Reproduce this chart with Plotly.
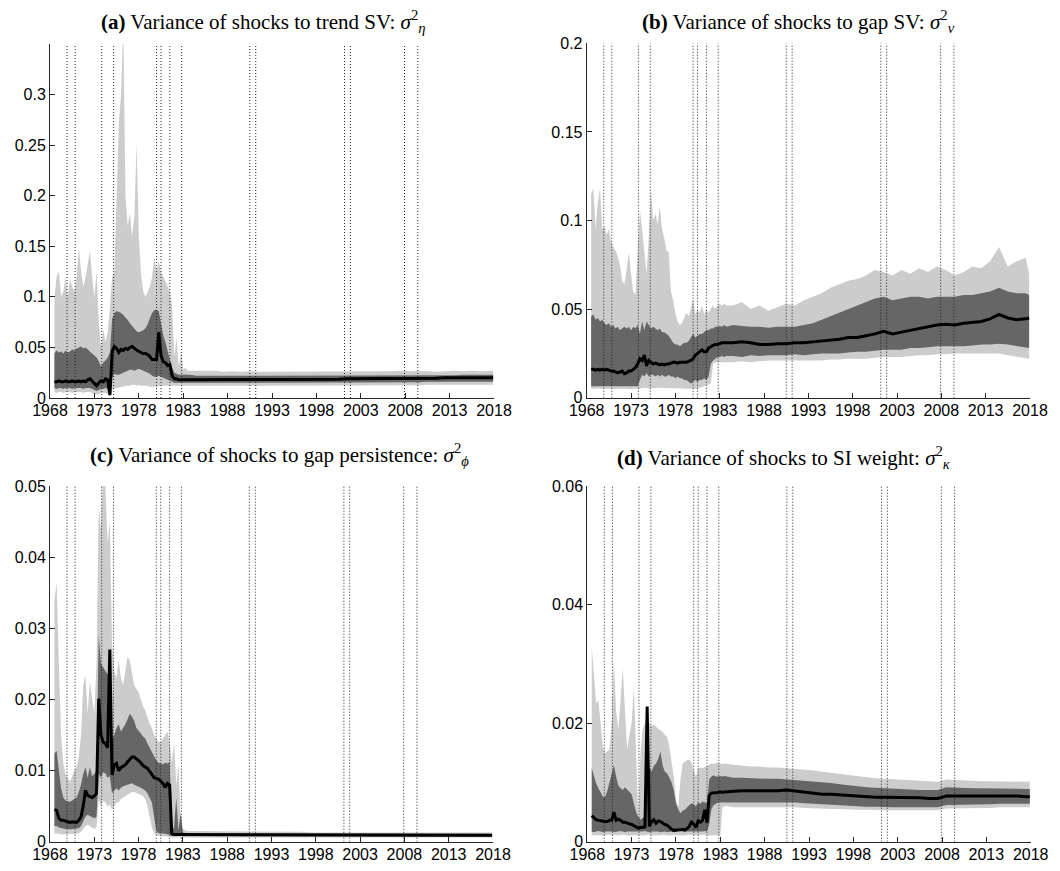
import plotly.graph_objects as go

# ---------------- time grid: quarterly 1968Q3-1983Q4, then annual ----------------
YEARS = [1968.5 + 0.25 * i for i in range(62)] + [1984.5 + i for i in range(34)] + [2017.9]

# NBER recession peaks/troughs (dotted vertical lines)
RECESSIONS = [1969.92, 1970.83, 1973.83, 1975.17, 1980.0, 1980.5, 1981.5, 1982.83,
              1990.5, 1991.17, 2001.17, 2001.83, 2007.92, 2009.42]

# ---------------- (a) trend SV ----------------
A_MED = [0.016, 0.016, 0.017, 0.016, 0.016, 0.017, 0.016, 0.016, 0.017, 0.016,
         0.016, 0.017, 0.016, 0.017, 0.016, 0.018, 0.019, 0.017, 0.014, 0.012,
         0.015, 0.017, 0.016, 0.019, 0.018, 0.003, 0.046, 0.051, 0.049, 0.045,
         0.048, 0.047, 0.049, 0.048, 0.050, 0.051, 0.049, 0.047, 0.046, 0.045,
         0.044, 0.044, 0.043, 0.041, 0.038, 0.038, 0.038, 0.065, 0.042, 0.036,
         0.035, 0.032, 0.033, 0.022, 0.019, 0.019, 0.018, 0.018, 0.018, 0.018,
         0.018, 0.018,
         0.018, 0.018, 0.018, 0.018, 0.018, 0.018, 0.018, 0.018, 0.018, 0.018,
         0.018, 0.018, 0.018, 0.018, 0.018, 0.0185, 0.0185, 0.019, 0.019, 0.019,
         0.019, 0.019, 0.019, 0.0195, 0.0195, 0.0195, 0.0195, 0.0195, 0.020, 0.020,
         0.020, 0.020, 0.020, 0.020, 0.020]
A_U68 = [0.044, 0.047, 0.045, 0.046, 0.044, 0.047, 0.045, 0.046, 0.048, 0.047,
         0.049, 0.050, 0.051, 0.049, 0.050, 0.048, 0.046, 0.045, 0.043, 0.040,
         0.036, 0.031, 0.035, 0.037, 0.040, 0.045, 0.078, 0.084, 0.086, 0.085,
         0.084, 0.082, 0.080, 0.077, 0.074, 0.071, 0.068, 0.066, 0.065, 0.066,
         0.067, 0.069, 0.073, 0.079, 0.084, 0.087, 0.087, 0.086, 0.075, 0.062,
         0.055, 0.045, 0.038, 0.030, 0.025, 0.024, 0.023, 0.023, 0.023, 0.023,
         0.023, 0.023,
         0.022, 0.022, 0.022, 0.022, 0.022, 0.022, 0.022, 0.022, 0.022, 0.022,
         0.022, 0.022, 0.022, 0.022, 0.022, 0.022, 0.022, 0.022, 0.022, 0.022,
         0.0225, 0.0225, 0.0225, 0.0225, 0.0225, 0.0225, 0.0225, 0.0225, 0.0225, 0.0225,
         0.023, 0.023, 0.023, 0.023, 0.023]
A_L68 = [0.010, 0.009, 0.010, 0.010, 0.009, 0.010, 0.010, 0.010, 0.009, 0.010,
         0.010, 0.010, 0.010, 0.009, 0.010, 0.010, 0.010, 0.009, 0.008, 0.007,
         0.008, 0.009, 0.009, 0.010, 0.009, 0.002, 0.020, 0.024, 0.023, 0.023,
         0.024, 0.025, 0.026, 0.027, 0.028, 0.028, 0.027, 0.028, 0.029, 0.028,
         0.027, 0.026, 0.025, 0.024, 0.022, 0.021, 0.021, 0.022, 0.021, 0.020,
         0.019, 0.018, 0.017, 0.016, 0.015, 0.015, 0.015, 0.015, 0.015, 0.015,
         0.015, 0.015,
         0.015, 0.015, 0.015, 0.015, 0.015, 0.015, 0.015, 0.015, 0.015, 0.015,
         0.015, 0.015, 0.015, 0.015, 0.015, 0.015, 0.0155, 0.0155, 0.0155, 0.0155,
         0.0155, 0.0155, 0.0155, 0.0155, 0.0155, 0.0155, 0.016, 0.016, 0.016, 0.016,
         0.016, 0.016, 0.016, 0.016, 0.016]
A_L90 = [0.006, 0.005, 0.006, 0.006, 0.005, 0.006, 0.006, 0.006, 0.005, 0.006,
         0.006, 0.006, 0.006, 0.005, 0.006, 0.006, 0.006, 0.005, 0.004, 0.004,
         0.004, 0.005, 0.005, 0.005, 0.004, 0.001, 0.008, 0.010, 0.010, 0.010,
         0.011, 0.011, 0.012, 0.012, 0.012, 0.013, 0.013, 0.012, 0.013, 0.012,
         0.012, 0.012, 0.012, 0.011, 0.011, 0.011, 0.011, 0.012, 0.012, 0.012,
         0.012, 0.012, 0.012, 0.012, 0.012, 0.012, 0.012, 0.012, 0.012, 0.012,
         0.012, 0.012,
         0.012, 0.012, 0.012, 0.012, 0.012, 0.012, 0.012, 0.012, 0.012, 0.012,
         0.012, 0.012, 0.012, 0.012, 0.012, 0.012, 0.0125, 0.0125, 0.0125, 0.0125,
         0.0125, 0.0125, 0.0125, 0.0125, 0.0125, 0.0125, 0.013, 0.013, 0.013, 0.013,
         0.013, 0.013, 0.013, 0.013, 0.013]
A_U90 = [0.100, 0.120, 0.125, 0.100, 0.105, 0.120, 0.100, 0.118, 0.110, 0.105,
         0.120, 0.148, 0.125, 0.110, 0.120, 0.135, 0.145, 0.120, 0.100, 0.125,
         0.075, 0.050, 0.068, 0.055, 0.065, 0.090, 0.120, 0.125, 0.200, 0.272,
         0.300, 0.370, 0.200, 0.170, 0.183, 0.160, 0.180, 0.252, 0.160, 0.123,
         0.105, 0.100, 0.105, 0.110, 0.120, 0.140, 0.125, 0.135, 0.125, 0.120,
         0.115, 0.110, 0.105, 0.090, 0.040, 0.060, 0.030, 0.047, 0.028, 0.030,
         0.027, 0.027,
         0.027, 0.0265, 0.027, 0.026, 0.0265, 0.026, 0.0265, 0.026, 0.026, 0.0265,
         0.026, 0.0265, 0.026, 0.026, 0.0265, 0.026, 0.0265, 0.026, 0.0265, 0.026,
         0.0265, 0.026, 0.0265, 0.027, 0.0265, 0.027, 0.0265, 0.026, 0.0265, 0.027,
         0.0265, 0.027, 0.0265, 0.027, 0.027]

# ---------------- (b) gap SV ----------------
B_MED = [0.016, 0.016, 0.0155, 0.016, 0.0155, 0.016, 0.0155, 0.016, 0.0155, 0.015,
         0.015, 0.0145, 0.014, 0.0145, 0.015, 0.0135, 0.014, 0.015, 0.015, 0.016,
         0.017, 0.019, 0.022, 0.021, 0.024, 0.018, 0.021, 0.020, 0.019, 0.0195,
         0.019, 0.0185, 0.019, 0.0185, 0.019, 0.019, 0.0195, 0.020, 0.020, 0.0195,
         0.020, 0.020, 0.020, 0.020, 0.0205, 0.021, 0.022, 0.024, 0.025, 0.026,
         0.027, 0.026, 0.026, 0.028, 0.029, 0.0295, 0.030, 0.030, 0.0305, 0.031,
         0.031, 0.031,
         0.031, 0.0315, 0.031, 0.030, 0.030, 0.0305, 0.0305, 0.031, 0.031, 0.0315,
         0.032, 0.0325, 0.033, 0.034, 0.034, 0.035, 0.036, 0.0375, 0.036, 0.037,
         0.038, 0.039, 0.040, 0.041, 0.0415, 0.041, 0.042, 0.0425, 0.043, 0.0445,
         0.047, 0.045, 0.044, 0.0445, 0.045]
B_U68 = [0.046, 0.047, 0.044, 0.045, 0.043, 0.044, 0.042, 0.041, 0.042, 0.040,
         0.041, 0.039, 0.040, 0.038, 0.039, 0.040, 0.039, 0.040, 0.038, 0.040,
         0.039, 0.041, 0.036, 0.043, 0.038, 0.043, 0.041, 0.039, 0.040, 0.039,
         0.038, 0.039, 0.037, 0.037, 0.036, 0.035, 0.033, 0.031, 0.030, 0.030,
         0.029, 0.030, 0.031, 0.031, 0.032, 0.034, 0.036, 0.034, 0.035, 0.036,
         0.036, 0.037, 0.038, 0.038, 0.039, 0.039, 0.040, 0.040, 0.0405, 0.040,
         0.041, 0.040,
         0.041, 0.0405, 0.040, 0.040, 0.0395, 0.040, 0.040, 0.040, 0.041, 0.042,
         0.044, 0.046, 0.048, 0.050, 0.052, 0.054, 0.056, 0.057, 0.055, 0.056,
         0.057, 0.057, 0.056, 0.057, 0.057, 0.057, 0.058, 0.058, 0.059, 0.060,
         0.062, 0.060, 0.059, 0.059, 0.058]
B_L68 = [0.0065, 0.0065, 0.0064, 0.0066, 0.0065, 0.0064, 0.0065, 0.0066, 0.0065, 0.0064,
         0.0065, 0.0065, 0.0064, 0.0065, 0.0066, 0.0065, 0.0064, 0.0065, 0.0065, 0.0066,
         0.0065, 0.0065, 0.010, 0.013, 0.012, 0.014, 0.012, 0.013, 0.013, 0.012,
         0.013, 0.012, 0.013, 0.012, 0.012, 0.013, 0.012, 0.012, 0.011, 0.012,
         0.011, 0.011, 0.010, 0.010, 0.009, 0.008, 0.009, 0.010, 0.009, 0.010,
         0.010, 0.011, 0.010, 0.012, 0.019, 0.021, 0.022, 0.023, 0.023, 0.0235,
         0.023, 0.0235,
         0.0235, 0.023, 0.024, 0.0235, 0.024, 0.024, 0.024, 0.0245, 0.024, 0.0245,
         0.025, 0.025, 0.025, 0.0255, 0.026, 0.026, 0.0265, 0.027, 0.027, 0.027,
         0.028, 0.028, 0.0285, 0.029, 0.029, 0.029, 0.029, 0.0295, 0.030, 0.030,
         0.0305, 0.030, 0.029, 0.028, 0.028]
B_L90 = [0.005, 0.0048, 0.005, 0.0052, 0.005, 0.0048, 0.005, 0.005, 0.0052, 0.005,
         0.0048, 0.005, 0.005, 0.0049, 0.005, 0.0051, 0.005, 0.0048, 0.005, 0.005,
         0.0052, 0.005, 0.005, 0.0055, 0.0053, 0.0055, 0.0054, 0.0055, 0.0056, 0.0055,
         0.0054, 0.0055, 0.0056, 0.0055, 0.0055, 0.0054, 0.0055, 0.0055, 0.0054, 0.0053,
         0.0052, 0.0052, 0.005, 0.005, 0.0048, 0.0047, 0.0048, 0.005, 0.0052, 0.0055,
         0.006, 0.0065, 0.007, 0.0075, 0.008, 0.019, 0.020, 0.020, 0.020, 0.0202,
         0.020, 0.0202,
         0.020, 0.0205, 0.020, 0.0205, 0.021, 0.021, 0.021, 0.021, 0.021, 0.021,
         0.021, 0.0215, 0.0215, 0.022, 0.022, 0.022, 0.0225, 0.023, 0.023, 0.023,
         0.0235, 0.024, 0.024, 0.0245, 0.0245, 0.025, 0.025, 0.025, 0.025, 0.025,
         0.025, 0.024, 0.023, 0.022, 0.022]
B_U90 = [0.115, 0.118, 0.095, 0.110, 0.118, 0.095, 0.097, 0.092, 0.095, 0.088,
         0.085, 0.083, 0.080, 0.075, 0.066, 0.064, 0.072, 0.082, 0.070, 0.060,
         0.058, 0.083, 0.106, 0.095, 0.080, 0.070, 0.090, 0.118, 0.100, 0.104,
         0.098, 0.108, 0.095, 0.090, 0.083, 0.082, 0.060, 0.055, 0.048, 0.043,
         0.041, 0.042, 0.045, 0.048, 0.046, 0.050, 0.056, 0.047, 0.050, 0.048,
         0.052, 0.047, 0.050, 0.048, 0.050, 0.052, 0.050, 0.052, 0.053, 0.052,
         0.053, 0.052,
         0.052, 0.054, 0.050, 0.052, 0.049, 0.051, 0.053, 0.052, 0.055, 0.057,
         0.059, 0.062, 0.064, 0.066, 0.067, 0.069, 0.072, 0.071, 0.069, 0.072,
         0.070, 0.073, 0.071, 0.074, 0.072, 0.069, 0.071, 0.074, 0.073, 0.077,
         0.085, 0.074, 0.077, 0.079, 0.070]

# ---------------- (c) gap persistence ----------------
C_MED = [0.0045, 0.0044, 0.0033, 0.0030, 0.0030, 0.0029, 0.0028, 0.0027, 0.0028, 0.0027,
         0.0027, 0.0030, 0.0035, 0.0050, 0.0072, 0.0065, 0.0064, 0.0062, 0.0064, 0.0068,
         0.0201, 0.0150, 0.0140, 0.0138, 0.0132, 0.0270, 0.0094, 0.0108, 0.0110, 0.0100,
         0.0104, 0.0106, 0.0108, 0.0112, 0.0116, 0.0119, 0.0119, 0.0117, 0.0114, 0.0111,
         0.0107, 0.0105, 0.0103, 0.0099, 0.0094, 0.0090, 0.0089, 0.0088, 0.0085, 0.0082,
         0.0076, 0.0082, 0.0080, 0.0011, 0.0010, 0.0010, 0.0010, 0.0010, 0.0010, 0.0010,
         0.0010, 0.0010,
         0.0009, 0.0009, 0.0009, 0.0009, 0.0009, 0.0009, 0.0009, 0.0009, 0.0009, 0.0009,
         0.0009, 0.0009, 0.0009, 0.0009, 0.0009, 0.0009, 0.0009, 0.0009, 0.0009, 0.0009,
         0.0009, 0.0009, 0.0009, 0.0009, 0.0009, 0.0009, 0.0009, 0.0009, 0.0009, 0.0009,
         0.0009, 0.0009, 0.0009, 0.0009, 0.0009]
C_U68 = [0.0124, 0.0128, 0.0100, 0.0075, 0.0062, 0.0058, 0.0057, 0.0056, 0.0058, 0.0060,
         0.0062, 0.0070, 0.0080, 0.0095, 0.0105, 0.0090, 0.0105, 0.0092, 0.0095, 0.0100,
         0.0290, 0.0250, 0.0245, 0.0240, 0.0235, 0.0250, 0.0143, 0.0150, 0.0160, 0.0165,
         0.0155, 0.0160, 0.0165, 0.0172, 0.0180, 0.0176, 0.0170, 0.0160, 0.0155, 0.0152,
         0.0148, 0.0145, 0.0138, 0.0132, 0.0126, 0.0120, 0.0114, 0.0111, 0.0110, 0.0109,
         0.0111, 0.0110, 0.0112, 0.0015, 0.0020, 0.0062, 0.0016, 0.0040, 0.0013, 0.0012,
         0.0012, 0.0012,
         0.0011, 0.0011, 0.0011, 0.0011, 0.0011, 0.0011, 0.0011, 0.0011, 0.0011, 0.0011,
         0.0011, 0.0011, 0.0011, 0.0011, 0.0011, 0.0011, 0.0011, 0.0011, 0.0011, 0.0011,
         0.0011, 0.0011, 0.0011, 0.0011, 0.0011, 0.0011, 0.0011, 0.0011, 0.0011, 0.0011,
         0.0011, 0.0011, 0.0011, 0.0011, 0.0011]
C_L68 = [0.0022, 0.0022, 0.0020, 0.0019, 0.0018, 0.0018, 0.0018, 0.0017, 0.0018, 0.0018,
         0.0018, 0.0019, 0.0022, 0.0028, 0.0035, 0.0038, 0.0036, 0.0034, 0.0033, 0.0035,
         0.0095, 0.0090, 0.0098, 0.0096, 0.0090, 0.0092, 0.0068, 0.0072, 0.0075, 0.0072,
         0.0076, 0.0078, 0.0079, 0.0080, 0.0081, 0.0082, 0.0080, 0.0079, 0.0078, 0.0076,
         0.0074, 0.0072, 0.0068, 0.0062, 0.0055, 0.0035, 0.0015, 0.0012, 0.0012, 0.0011,
         0.0011, 0.0010, 0.0010, 0.0008, 0.0008, 0.0008, 0.0008, 0.0008, 0.0008, 0.0008,
         0.0008, 0.0008,
         0.0007, 0.0007, 0.0007, 0.0007, 0.0007, 0.0007, 0.0007, 0.0007, 0.0007, 0.0007,
         0.0007, 0.0007, 0.0007, 0.0007, 0.0007, 0.0007, 0.0007, 0.0007, 0.0007, 0.0007,
         0.0007, 0.0007, 0.0007, 0.0007, 0.0007, 0.0007, 0.0007, 0.0007, 0.0007, 0.0007,
         0.0007, 0.0007, 0.0007, 0.0007, 0.0007]
C_L90 = [0.0012, 0.0012, 0.0011, 0.0010, 0.0010, 0.0010, 0.0010, 0.0010, 0.0010, 0.0010,
         0.0011, 0.0012, 0.0014, 0.0018, 0.0022, 0.0024, 0.0022, 0.0020, 0.0018, 0.0020,
         0.0060, 0.0050, 0.0058, 0.0055, 0.0050, 0.0052, 0.0045, 0.0050, 0.0055, 0.0055,
         0.0060, 0.0062, 0.0064, 0.0066, 0.0068, 0.0070, 0.0070, 0.0069, 0.0068, 0.0066,
         0.0064, 0.0060, 0.0050, 0.0035, 0.0020, 0.0012, 0.0009, 0.0008, 0.0008, 0.0008,
         0.0008, 0.0007, 0.0007, 0.0006, 0.0006, 0.0006, 0.0006, 0.0006, 0.0006, 0.0006,
         0.0006, 0.0006,
         0.0006, 0.0006, 0.0006, 0.0006, 0.0006, 0.0006, 0.0006, 0.0006, 0.0006, 0.0006,
         0.0006, 0.0006, 0.0006, 0.0006, 0.0006, 0.0006, 0.0006, 0.0006, 0.0006, 0.0006,
         0.0006, 0.0006, 0.0006, 0.0006, 0.0006, 0.0006, 0.0006, 0.0006, 0.0006, 0.0006,
         0.0006, 0.0006, 0.0006, 0.0006, 0.0006]
C_U90 = [0.0340, 0.0365, 0.0250, 0.0150, 0.0110, 0.0095, 0.0090, 0.0085, 0.0092, 0.0100,
         0.0105, 0.0120, 0.0150, 0.0220, 0.0235, 0.0180, 0.0225, 0.0200, 0.0180, 0.0250,
         0.0470, 0.0440, 0.0520, 0.0500, 0.0420, 0.0450, 0.0280, 0.0240, 0.0230, 0.0255,
         0.0230, 0.0220, 0.0240, 0.0260, 0.0255, 0.0240, 0.0220, 0.0215, 0.0210, 0.0200,
         0.0190, 0.0185, 0.0175, 0.0165, 0.0160, 0.0150, 0.0145, 0.0140, 0.0140, 0.0145,
         0.0150, 0.0155, 0.0140, 0.0110, 0.0140, 0.0080, 0.0110, 0.0025, 0.0018, 0.0016,
         0.0015, 0.0015,
         0.0015, 0.0015, 0.0014, 0.0014, 0.0014, 0.0014, 0.0014, 0.0014, 0.0014, 0.0014,
         0.0014, 0.0014, 0.0014, 0.0013, 0.0013, 0.0013, 0.0013, 0.0013, 0.0013, 0.0013,
         0.0013, 0.0013, 0.0013, 0.0013, 0.0013, 0.0013, 0.0013, 0.0013, 0.0013, 0.0013,
         0.0013, 0.0013, 0.0013, 0.0013, 0.0013]

# ---------------- (d) SI weight ----------------
D_MED = [0.0044, 0.0040, 0.0037, 0.0036, 0.0035, 0.0035, 0.0034, 0.0034, 0.0036, 0.0036,
         0.0050, 0.0036, 0.0038, 0.0036, 0.0033, 0.0033, 0.0031, 0.0030, 0.0029, 0.0027,
         0.0025, 0.0023, 0.0024, 0.0024, 0.0025, 0.0228, 0.0026, 0.0034, 0.0037, 0.0031,
         0.0035, 0.0034, 0.0031, 0.0029, 0.0028, 0.0024, 0.0021, 0.0019, 0.0020, 0.0020,
         0.0020, 0.0021, 0.0020, 0.0022, 0.0026, 0.0033, 0.0030, 0.0024, 0.0035, 0.0033,
         0.0036, 0.0054, 0.0032, 0.0078, 0.0082, 0.0082, 0.0083, 0.0083, 0.0084, 0.0083,
         0.0084, 0.0084,
         0.0085, 0.0086, 0.0086, 0.0085, 0.0086, 0.0086, 0.0087, 0.0085, 0.0083, 0.0081,
         0.0080, 0.0080, 0.0079, 0.0077, 0.0077, 0.0076, 0.0075, 0.0075, 0.0075, 0.0074,
         0.0074, 0.0074, 0.0073, 0.0073, 0.0077, 0.0077, 0.0078, 0.0077, 0.0077, 0.0077,
         0.0077, 0.0077, 0.0077, 0.0076, 0.0076]
D_U68 = [0.0124, 0.0110, 0.0098, 0.0090, 0.0082, 0.0076, 0.0075, 0.0085, 0.0100, 0.0115,
         0.0129, 0.0110, 0.0095, 0.0090, 0.0087, 0.0092, 0.0088, 0.0085, 0.0080, 0.0065,
         0.0050, 0.0042, 0.0037, 0.0040, 0.0042, 0.0100, 0.0126, 0.0118, 0.0128, 0.0132,
         0.0140, 0.0152, 0.0128, 0.0118, 0.0115, 0.0108, 0.0100, 0.0087, 0.0065, 0.0055,
         0.0048, 0.0052, 0.0054, 0.0058, 0.0062, 0.0065, 0.0063, 0.0060, 0.0066, 0.0064,
         0.0068, 0.0066, 0.0065, 0.0105, 0.0110, 0.0112, 0.0110, 0.0110, 0.0111, 0.0110,
         0.0111, 0.0110,
         0.0108, 0.0108, 0.0107, 0.0107, 0.0106, 0.0106, 0.0105, 0.0104, 0.0103, 0.0102,
         0.0100, 0.0099, 0.0097, 0.0095, 0.0093, 0.0092, 0.0091, 0.0090, 0.0089, 0.0088,
         0.0088, 0.0087, 0.0087, 0.0087, 0.0092, 0.0091, 0.0090, 0.0090, 0.0090, 0.0090,
         0.0090, 0.0090, 0.0090, 0.0089, 0.0089]
D_L68 = [0.0017, 0.0016, 0.0017, 0.0018, 0.0017, 0.0016, 0.0017, 0.0017, 0.0018, 0.0017,
         0.0016, 0.0017, 0.0017, 0.0018, 0.0017, 0.0016, 0.0017, 0.0017, 0.0016, 0.0017,
         0.0017, 0.0016, 0.0017, 0.0017, 0.0018, 0.0017, 0.0016, 0.0017, 0.0017, 0.0018,
         0.0017, 0.0016, 0.0017, 0.0017, 0.0016, 0.0017, 0.0017, 0.0016, 0.0017, 0.0017,
         0.0018, 0.0017, 0.0016, 0.0017, 0.0017, 0.0016, 0.0017, 0.0017, 0.0016, 0.0017,
         0.0017, 0.0018, 0.0017, 0.0030, 0.0055, 0.0062, 0.0064, 0.0066, 0.0066, 0.0066,
         0.0066, 0.0066,
         0.0066, 0.0066, 0.0066, 0.0066, 0.0066, 0.0067, 0.0067, 0.0066, 0.0065, 0.0064,
         0.0063, 0.0062, 0.0061, 0.0060, 0.0060, 0.0059, 0.0059, 0.0058, 0.0058, 0.0058,
         0.0058, 0.0058, 0.0058, 0.0058, 0.0062, 0.0062, 0.0063, 0.0063, 0.0063, 0.0063,
         0.0064, 0.0064, 0.0064, 0.0064, 0.0064]
D_L90 = [0.0011, 0.0011, 0.0012, 0.0011, 0.0011, 0.0010, 0.0011, 0.0011, 0.0012, 0.0011,
         0.0011, 0.0010, 0.0011, 0.0011, 0.0012, 0.0011, 0.0011, 0.0010, 0.0011, 0.0011,
         0.0012, 0.0011, 0.0011, 0.0010, 0.0011, 0.0011, 0.0012, 0.0011, 0.0011, 0.0010,
         0.0011, 0.0011, 0.0012, 0.0011, 0.0011, 0.0010, 0.0011, 0.0011, 0.0012, 0.0011,
         0.0011, 0.0010, 0.0011, 0.0011, 0.0012, 0.0011, 0.0011, 0.0010, 0.0011, 0.0011,
         0.0012, 0.0011, 0.0011, 0.0010, 0.0011, 0.0011, 0.0012, 0.0011, 0.0011, 0.0058,
         0.0060, 0.0060,
         0.0058, 0.0058, 0.0058, 0.0058, 0.0058, 0.0059, 0.0059, 0.0058, 0.0057, 0.0056,
         0.0056, 0.0055, 0.0055, 0.0054, 0.0054, 0.0054, 0.0053, 0.0053, 0.0053, 0.0053,
         0.0053, 0.0053, 0.0053, 0.0053, 0.0056, 0.0056, 0.0057, 0.0057, 0.0057, 0.0057,
         0.0058, 0.0058, 0.0058, 0.0058, 0.0058]
D_U90 = [0.0329, 0.0280, 0.0233, 0.0239, 0.0200, 0.0160, 0.0149, 0.0152, 0.0155, 0.0200,
         0.0306, 0.0220, 0.0188, 0.0240, 0.0295, 0.0220, 0.0155, 0.0180, 0.0200, 0.0261,
         0.0150, 0.0042, 0.0150, 0.0190, 0.0200, 0.0210, 0.0200, 0.0195, 0.0198, 0.0194,
         0.0190, 0.0188, 0.0185, 0.0180, 0.0177, 0.0160, 0.0138, 0.0110, 0.0070, 0.0059,
         0.0104, 0.0132, 0.0135, 0.0138, 0.0138, 0.0135, 0.0120, 0.0110, 0.0124, 0.0125,
         0.0124, 0.0126, 0.0128, 0.0130, 0.0132, 0.0131, 0.0132, 0.0133, 0.0132, 0.0131,
         0.0132, 0.0131,
         0.0130, 0.0128, 0.0127, 0.0127, 0.0125, 0.0125, 0.0124, 0.0122, 0.0121, 0.0120,
         0.0118, 0.0116, 0.0115, 0.0112, 0.0110, 0.0108, 0.0107, 0.0106, 0.0105, 0.0104,
         0.0104, 0.0103, 0.0102, 0.0101, 0.0105, 0.0104, 0.0103, 0.0103, 0.0102, 0.0102,
         0.0102, 0.0102, 0.0102, 0.0101, 0.0101]

X_TICKS = [1968, 1973, 1978, 1983, 1988, 1993, 1998, 2003, 2008, 2013, 2018]

PANELS = [
    dict(title="<b>(a)</b> Variance of shocks to trend SV: <i>σ</i><sup>2</sup><sub><i>η</i></sub>",
         med=A_MED, u68=A_U68, l68=A_L68, u90=A_U90, l90=A_L90, ymax=0.35,
         yt=[0, 0.05, 0.1, 0.15, 0.2, 0.25, 0.3], ytl=["0", "0.05", "0.1", "0.15", "0.2", "0.25", "0.3"]),
    dict(title="<b>(b)</b> Variance of shocks to gap SV: <i>σ</i><sup>2</sup><sub><i>ν</i></sub>",
         med=B_MED, u68=B_U68, l68=B_L68, u90=B_U90, l90=B_L90, ymax=0.2,
         yt=[0, 0.05, 0.1, 0.15, 0.2], ytl=["0", "0.05", "0.1", "0.15", "0.2"]),
    dict(title="<b>(c)</b> Variance of shocks to gap persistence: <i>σ</i><sup>2</sup><sub><i>ϕ</i></sub>",
         med=C_MED, u68=C_U68, l68=C_L68, u90=C_U90, l90=C_L90, ymax=0.05,
         yt=[0, 0.01, 0.02, 0.03, 0.04, 0.05], ytl=["0", "0.01", "0.02", "0.03", "0.04", "0.05"]),
    dict(title="<b>(d)</b> Variance of shocks to SI weight: <i>σ</i><sup>2</sup><sub><i>κ</i></sub>",
         med=D_MED, u68=D_U68, l68=D_L68, u90=D_U90, l90=D_L90, ymax=0.06,
         yt=[0, 0.02, 0.04, 0.06], ytl=["0", "0.02", "0.04", "0.06"]),
]

# The page body has an 8px default margin, so the figure is drawn 8px in from the
# window's top-left corner; size it to fill the remaining 1060x871 window exactly.
OFF = 8
W, H = 1060 - 2 * OFF, 871 - 2 * OFF
# axes boxes in window pixels: (left, right, top, bottom)
BOXES = [(50, 494, 44, 398), (586.7, 1030, 43.3, 397.7),
         (50, 493, 486, 841.7), (587.3, 1030.7, 486, 841.7)]
TITLE_POS = [(263.5, 21), (798, 22), (279, 455), (784, 457)]


def fx(px):
    return (px - OFF) / W


def fy(py):
    return 1 - (py - OFF) / H


LIGHT = "#cccccc"
DARK = "#666666"
AXC = "#262626"

fig = go.Figure()
for n, p in enumerate(PANELS):
    suf = "" if n == 0 else str(n + 1)
    xa, ya = "x" + suf, "y" + suf
    common = dict(x=YEARS, mode="lines", xaxis=xa, yaxis=ya, hoverinfo="skip", showlegend=False)
    fig.add_trace(go.Scatter(y=p["u90"], line=dict(width=0, color=LIGHT), **common))
    fig.add_trace(go.Scatter(y=p["l90"], line=dict(width=0, color=LIGHT), fill="tonexty",
                             fillcolor=LIGHT, **common))
    fig.add_trace(go.Scatter(y=p["u68"], line=dict(width=0, color=DARK), **common))
    fig.add_trace(go.Scatter(y=p["l68"], line=dict(width=0, color=DARK), fill="tonexty",
                             fillcolor=DARK, **common))
    rx, ry = [], []
    for r in RECESSIONS:
        rx += [r, r, None]
        ry += [0, p["ymax"], None]
    fig.add_trace(go.Scatter(x=rx, y=ry, mode="lines", xaxis=xa, yaxis=ya, hoverinfo="skip",
                             showlegend=False, line=dict(color="#222222", width=1, dash="1px,2px")))
    fig.add_trace(go.Scatter(y=p["med"], line=dict(width=3, color="black"), **common))

    l, r, t, b = BOXES[n]
    axis_style = dict(showline=True, linecolor=AXC, linewidth=1, ticks="inside", ticklen=5,
                      tickcolor=AXC, tickwidth=1, showgrid=False, zeroline=False, mirror=False,
                      automargin=False,
                      tickfont=dict(family="Liberation Sans, Arial, sans-serif", size=16, color="black"))
    fig.layout["xaxis" + suf] = dict(domain=[fx(l), fx(r)], anchor=ya, range=[1968, 2018],
                                      tickvals=X_TICKS, ticktext=[str(v) for v in X_TICKS],
                                      ticklabelstandoff=-2, **axis_style)
    fig.layout["yaxis" + suf] = dict(domain=[fy(b), fy(t)], anchor=xa, range=[0, p["ymax"]],
                                      tickvals=p["yt"], ticktext=p["ytl"], **axis_style)
    tx, ty = TITLE_POS[n]
    fig.add_annotation(text=p["title"], x=fx(tx), y=fy(ty), xref="paper", yref="paper",
                       xanchor="center", yanchor="middle", showarrow=False,
                       font=dict(family="Liberation Serif, DejaVu Serif, serif", size=21, color="black"))

fig.update_layout(width=W, height=H, margin=dict(l=0, r=0, t=0, b=0, autoexpand=False),
                  paper_bgcolor="white", plot_bgcolor="white")

for name, arr in [("A", [A_MED, A_U68, A_L68, A_U90, A_L90]), ("B", [B_MED, B_U68, B_L68, B_U90, B_L90]),
                  ("C", [C_MED, C_U68, C_L68, C_U90, C_L90]), ("D", [D_MED, D_U68, D_L68, D_U90, D_L90])]:
    for k, s in enumerate(arr):
        if len(s) != len(YEARS):
            print("length mismatch", name, k, len(s), len(YEARS))

fig.write_html("out.html")
